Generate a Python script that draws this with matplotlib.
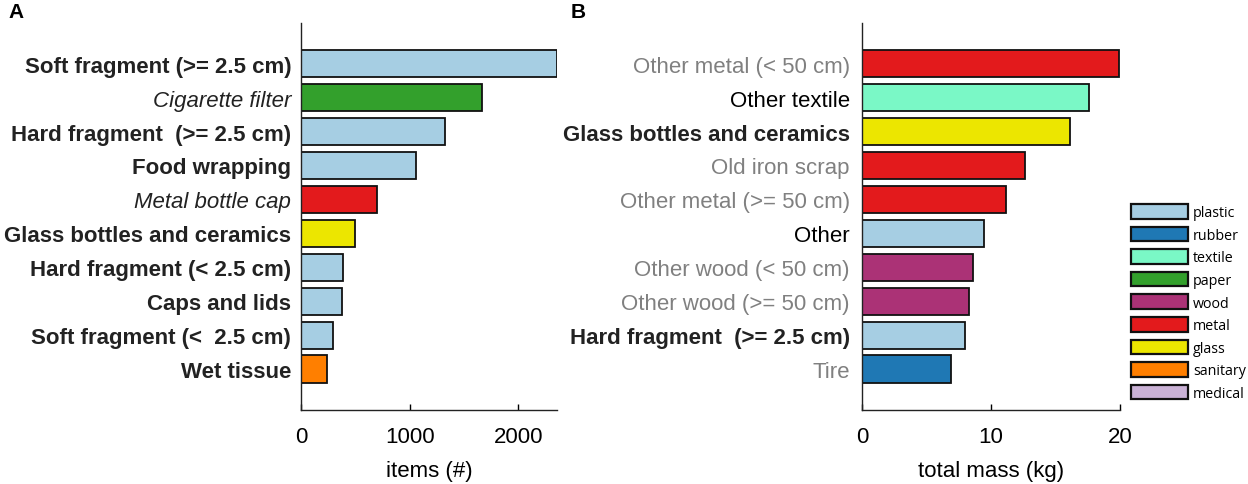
import matplotlib
matplotlib.use("Agg")
import matplotlib.pyplot as plt
from matplotlib.patches import Patch

plt.rcParams['font.family'] = ['Liberation Sans', 'DejaVu Sans']

# ---------------- data ----------------
items_labels = ["Soft fragment (>= 2.5 cm)", "Cigarette filter", "Hard fragment  (>= 2.5 cm)",
                "Food wrapping", "Metal bottle cap", "Glass bottles and ceramics",
                "Hard fragment (< 2.5 cm)", "Caps and lids", "Soft fragment (<  2.5 cm)", "Wet tissue"]
items_values = [2360, 1664, 1328, 1063, 700, 498, 389, 382, 293, 240]
items_material = ["plastic", "paper", "plastic", "plastic", "metal", "glass",
                  "plastic", "plastic", "plastic", "sanitary"]
items_style = ["bold", "italic", "bold", "bold", "italic", "bold", "bold", "bold", "bold", "bold"]

mass_labels = ["Other metal (< 50 cm)", "Other textile", "Glass bottles and ceramics",
               "Old iron scrap", "Other metal (>= 50 cm)", "Other", "Other wood (< 50 cm)",
               "Other wood (>= 50 cm)", "Hard fragment  (>= 2.5 cm)", "Tire"]
mass_values = [19.9, 17.6, 16.1, 12.6, 11.14, 9.45, 8.58, 8.25, 8.0, 6.9]
mass_material = ["metal", "textile", "glass", "metal", "metal", "plastic", "wood",
                 "wood", "plastic", "rubber"]
mass_style = ["gray", "normal", "bold", "gray", "gray", "normal", "gray", "gray", "bold", "gray"]

materials = ["plastic", "rubber", "textile", "paper", "wood", "metal", "glass", "sanitary", "medical"]
material_colors = {"plastic": "#a6cee3", "rubber": "#1f78b4", "textile": "#7af8c6",
                   "paper": "#33a02c", "wood": "#ab3276", "metal": "#e31a1c",
                   "glass": "#ece600", "sanitary": "#ff7f00", "medical": "#cab2d6"}

# ---------------- figure ----------------
W, H = 1248, 485
fig = plt.figure(figsize=(W / 100, H / 100), dpi=100)

def px_axes(x0, x1, y0, y1):
    return fig.add_axes([x0 / W, 1 - y1 / H, (x1 - x0) / W, (y1 - y0) / H])

axA = px_axes(301, 557.3, 24, 410.7)
axB = px_axes(862.3, 1120, 24, 410.7)

FS = 16.0

def style_label(lbl, st):
    if st == "bold":
        lbl.set_fontweight("bold"); lbl.set_color("#222222")
    elif st == "italic":
        lbl.set_fontstyle("italic"); lbl.set_color("#222222")
    elif st == "gray":
        lbl.set_color("#808080")
    else:
        lbl.set_color("#000000")

def draw(ax, labels, values, mats, styles, xmax, xticks, xlabel, pad):
    ypos = list(range(len(labels)))
    ax.barh(ypos, values, height=0.8, color=[material_colors[m] for m in mats],
            edgecolor="#111111", linewidth=1.3)
    ax.set_ylim(len(labels) - 1 + 1.2, -1.2)
    ax.set_xlim(0, xmax)
    ax.set_yticks(ypos)
    ax.set_yticklabels(labels, fontsize=FS)
    for lbl, st in zip(ax.get_yticklabels(), styles):
        style_label(lbl, st)
    ax.set_xticks(xticks)
    ax.tick_params(axis='x', direction='in', length=4, labelsize=FS, pad=12, width=1)
    ax.tick_params(axis='y', length=0, pad=pad)
    ax.set_xlabel(xlabel, fontsize=FS, labelpad=9)
    for s in ["top", "right"]:
        ax.spines[s].set_visible(False)
    for s in ["left", "bottom"]:
        ax.spines[s].set_linewidth(1.0)
        ax.spines[s].set_color("#222222")

draw(axA, items_labels, items_values, items_material, items_style, 2360, [0, 1000, 2000], "items (#)", 7)
draw(axB, mass_labels, mass_values, mass_material, mass_style, 20, [0, 10, 20], "total mass (kg)", 9)

fig.text(8 / W, 1 - 3 / H, "A", fontsize=15, fontweight="bold", va="top", ha="left")
fig.text(571 / W, 1 - 3 / H, "B", fontsize=15, fontweight="bold", va="top", ha="left")

handles = [Patch(facecolor=material_colors[m], edgecolor="#111111", linewidth=1.6) for m in materials]
leg = fig.legend(handles, materials, loc="upper left", bbox_to_anchor=(1131 / W, 1 - 205 / H),
                 frameon=False, borderpad=0, handlelength=4.0, handleheight=1.2,
                 labelspacing=0.45, handletextpad=0.35, borderaxespad=0,
                 prop={"family": "Open Sans", "size": 10.3})

fig.savefig("out.png", dpi=100)
